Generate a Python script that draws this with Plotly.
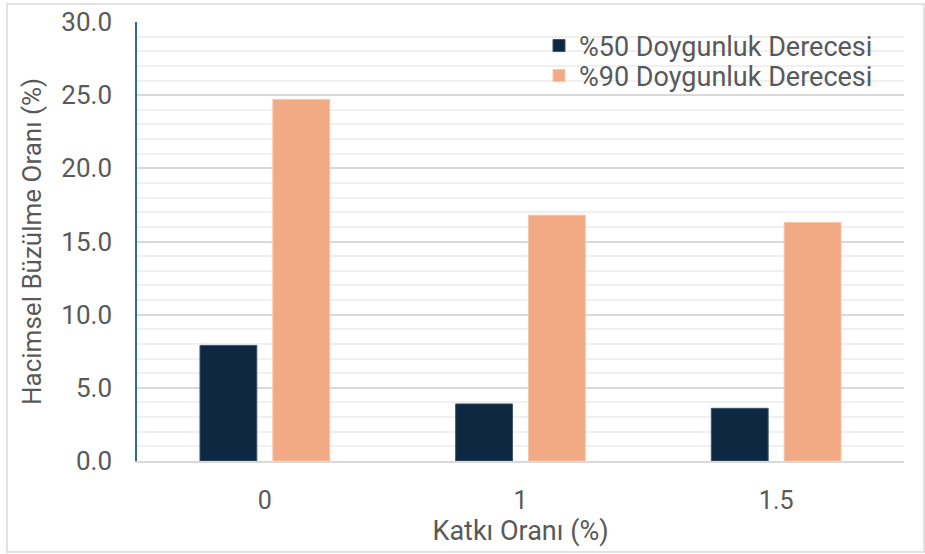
import plotly.graph_objects as go

# Additive ratio categories and volumetric shrinkage values (%)
categories = ["0", "1", "1.5"]
shrink_50 = [7.9, 3.9, 3.6]
shrink_90 = [24.7, 16.8, 16.3]
series_names = ["%50 Doygunluk Derecesi", "%90 Doygunluk Derecesi"]
y_ticks = [0, 5, 10, 15, 20, 25, 30]
x_title = "Katkı Oranı (%)"
y_title = "Hacimsel Büzülme Oranı (%)"

W, H = 925, 554
ML, MR, MT, MB = 137, 21, 22, 93
FONT = "Roboto"
TXT = "#595959"

pw = W - ML - MR
ph = H - MT - MB


def px_x(x):
    return (x - ML) / pw


def px_y(y):
    return (H - MB - y) / ph


fig = go.Figure()
fig.add_trace(go.Bar(x=categories, y=shrink_50, name=series_names[0], legend="legend",
                     marker=dict(color="#0f2841", line=dict(color="#3b5670", width=1))))
fig.add_trace(go.Bar(x=categories, y=shrink_90, name=series_names[1], legend="legend2",
                     marker=dict(color="#f2aa84", line=dict(color="#f7c6ab", width=1))))

legend_style = dict(xanchor="left", yanchor="middle", bgcolor="rgba(0,0,0,0)",
                    font=dict(size=27, color=TXT), itemwidth=30)

fig.update_layout(
    width=W, height=H,
    margin=dict(l=ML, r=MR, t=MT, b=MB),
    paper_bgcolor="white", plot_bgcolor="white",
    barmode="group", bargap=0.43, bargroupgap=0.22,
    font=dict(family=FONT, color=TXT, size=26),
    showlegend=True,
    legend=dict(x=px_x(539), y=px_y(46), **legend_style),
    legend2=dict(x=px_x(539), y=px_y(76), **legend_style),
    xaxis=dict(
        automargin=False,
        showgrid=False, showline=True, linecolor="#d9d9d9", linewidth=1.5,
        ticks="", tickfont=dict(size=25), ticklabelstandoff=16,
        title=dict(text=x_title, font=dict(size=27), standoff=1),
    ),
    yaxis=dict(
        automargin=False,
        range=[0, 30], tickvals=y_ticks,
        ticktext=[f"{v:.1f}" for v in y_ticks],
        showgrid=True, gridcolor="#d9d9d9", gridwidth=1.5,
        minor=dict(dtick=1, showgrid=True, gridcolor="#f0f0f0", gridwidth=1.5),
        showline=True, linecolor="#2f6c94", linewidth=1.5,
        ticks="", tickfont=dict(size=26), ticklabelstandoff=18,
        zeroline=False,
    ),
    annotations=[dict(
        text=y_title, textangle=-90, xref="paper", yref="paper",
        x=px_x(32), y=px_y(242), xanchor="center", yanchor="middle",
        showarrow=False, font=dict(size=26, color=TXT),
    )],
    shapes=[dict(
        type="rect", xref="paper", yref="paper",
        x0=px_x(7), x1=px_x(924), y0=px_y(552), y1=px_y(4),
        line=dict(color="#d9d9d9", width=1.5), fillcolor="rgba(0,0,0,0)",
        layer="below",
    )],
)

fig.write_html("out.html")
